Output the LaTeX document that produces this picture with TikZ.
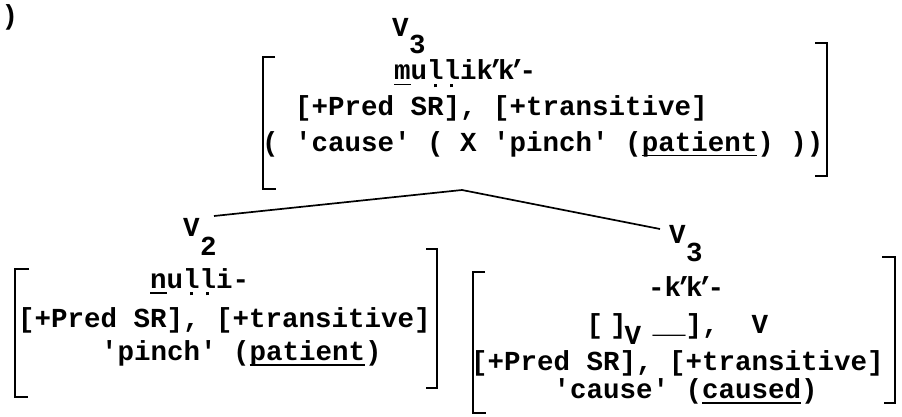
\documentclass[tikz,border=0pt]{standalone}
\usepackage{fontspec}
\setmonofont{Liberation Mono}
\usepackage{tikz}
% typewriter marks: underlined letters, dotted l, glottal k
\newcommand\uline[1]{\setbox0\hbox{#1}\rlap{\rule[-0.2em]{\wd0}{0.07em}}\box0}
\newcommand\dotl{\rlap{l}\makebox[0.6em]{\raisebox{-0.27em}{\rule{0.11em}{0.11em}}}}
\newcommand\kq{k\kern-0.2em’\kern-0.22em}

\begin{document}
\begin{tikzpicture}[x=1pt, y=-1pt,
    tw/.style={inner sep=0pt, anchor=base west, font=\ttfamily\bfseries\fontsize{27.5}{33}\selectfont},
    brak/.style={line width=2.6pt},
    branch/.style={line width=1.7pt}
  ]
  \useasboundingbox (0,0) rectangle (902,417);

  \node[tw] (paren) at (1.5,25) {)};

  % top V3
  \node[tw] (topcat) at (392,37) {V};
  \node[tw] (topsub) at ([yshift=-17pt]topcat.base east) {3};
  \node[tw] (topstem) at (394,80) {\uline{m}u\dotl\dotl i\kq\kq-};
  \node[tw] (topfeat) at (295,116) {[+Pred SR], [+transitive]};
  \node[tw] (topsem) at (262,151) {( 'cause' ( X 'pinch' (\uline{patient}) ))};
  \draw[brak] (275,57) -- (263,57) -- (263,189) -- (276,189);
  \draw[brak] (815,43) -- (827,43) -- (827,176) -- (815,176);

  % branches
  \coordinate (apex) at (462,190);
  \coordinate (lend) at (214,216);
  \coordinate (rend) at (660,229);
  \draw[branch] (apex) -- (lend);
  \draw[branch] (apex) -- (rend);

  % left V2
  \node[tw] (lcat) at (183,236) {V};
  \node[tw] (lsub) at ([yshift=-19pt]lcat.base east) {2};
  \node[tw] (lstem) at (150,288) {\uline{n}u\dotl\dotl i-};
  \node[tw] (lfeat) at (18,327) {[+Pred SR], [+transitive]};
  \node[tw] (lsem) at (101,360) {'pinch' (\uline{patient})};
  \draw[brak] (29,269) -- (15,269) -- (15,397) -- (28,397);
  \draw[brak] (426,249) -- (437,249) -- (437,388) -- (426,388);

  % right V3
  \node[tw] (rcat) at (669,243) {V};
  \node[tw] (rsub) at ([yshift=-18pt]rcat.base east) {3};
  \node[tw] (rstem) at (648,296) {-\kq\kq-};
  \node[tw] (rframe) at (586.5,333) {[\kern0.25em]\kern-0.25em\ \ \_\_],\ \ V};
  \node[tw] (rframesub) at ([xshift=38pt,yshift=-11pt]rframe.base west) {V};
  \node[tw] (rfeat) at (471,370) {[+Pred SR], [+transitive]};
  \node[tw] (rsem) at (553.5,398) {'cause' (\uline{caused})};
  \draw[brak] (485,272) -- (473,272) -- (473,413) -- (486,413);
  \draw[brak] (882,257) -- (895,257) -- (895,403) -- (884,403);
\end{tikzpicture}
\end{document}
